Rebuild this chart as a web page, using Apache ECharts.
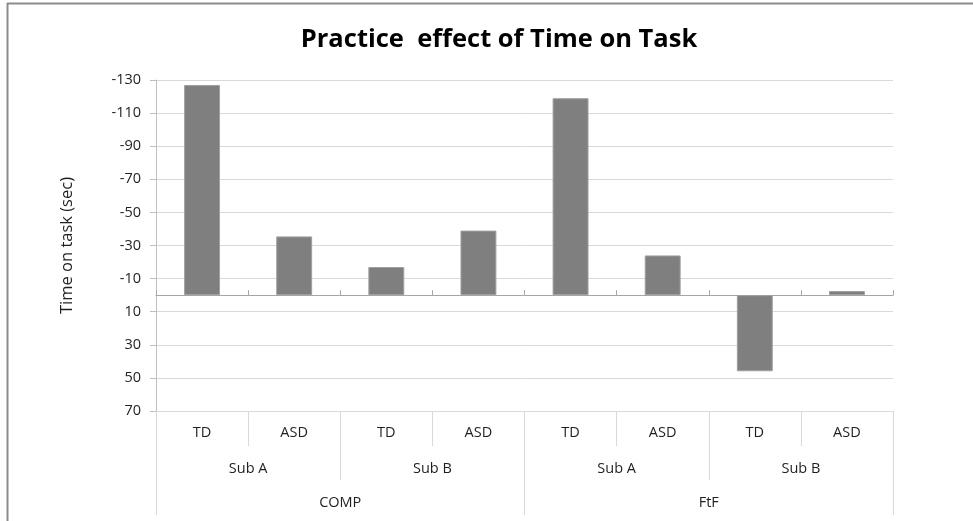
<!DOCTYPE html>
<html>
<head>
<meta charset="utf-8">
<script src="https://cdn.jsdelivr.net/npm/echarts@6/dist/echarts.min.js"></script>
<style>
  html, body { margin: 0; padding: 0; background: #fff; }
  #chart { width: 973px; height: 521px; }
</style>
</head>
<body>
<div id="chart"></div>
<script>
// Three-level category hierarchy along the bottom
const groupLabels = ['TD', 'ASD', 'TD', 'ASD', 'TD', 'ASD', 'TD', 'ASD'];
const subLabels = ['Sub A', 'Sub B', 'Sub A', 'Sub B'];
const modeLabels = ['COMP', 'FtF'];

// Change in time on task (seconds); negative = faster
const timeOnTask = [-127, -35.5, -17, -39, -119, -24, 46, -2.5];

// Value axis tick positions
const yTicks = [-130, -110, -90, -70, -50, -30, -10, 10, 30, 50, 70];

const FONT = '"Open Sans", Lato, sans-serif';
const TEXT = '#1f1f1f';
const GRID_GREY = '#d9d9d9';

const chart = echarts.init(document.getElementById('chart'), null, { renderer: 'canvas' });

// One bottom axis per hierarchy level; separator ticks get longer per level
function levelAxis(labels, margin, tickLen) {
  return {
    type: 'category',
    data: labels,
    position: 'bottom',
    axisLine: { show: false, onZero: false },
    axisTick: { show: true, length: tickLen, lineStyle: { color: GRID_GREY, width: 1 } },
    axisLabel: { show: true, margin: margin, color: TEXT, fontSize: 14.5, fontFamily: FONT },
    splitLine: { show: false }
  };
}

chart.setOption({
  animation: false,
  backgroundColor: '#fff',
  title: {
    text: 'Practice  effect of Time on Task',
    left: 494,
    top: 22,
    textAlign: 'center',
    textStyle: { fontFamily: FONT, fontSize: 25.5, fontWeight: 'bold', color: '#000' }
  },
  grid: { left: 156, right: 80, top: 80, bottom: 110 },
  xAxis: [
    {
      // axis line crossing at zero
      type: 'category',
      data: groupLabels,
      axisLine: { show: true, onZero: true, lineStyle: { color: '#a6a6a6', width: 1 } },
      axisTick: { show: true, inside: true, length: 5, lineStyle: { color: '#a6a6a6' } },
      axisLabel: { show: false },
      splitLine: { show: false }
    },
    levelAxis(groupLabels, 14, 35),
    levelAxis(subLabels, 50, 69),
    levelAxis(modeLabels, 84, 104)
  ],
  yAxis: {
    type: 'value',
    inverse: true,
    min: -130,
    max: 70,
    interval: 10,
    name: 'Time on task (sec)',
    nameLocation: 'middle',
    nameGap: 80,
    nameRotate: 90,
    nameTextStyle: { fontFamily: FONT, fontSize: 16.5, color: TEXT },
    axisLine: { show: true, lineStyle: { color: '#bfbfbf', width: 1 } },
    axisTick: { show: true, length: 6, customValues: yTicks, lineStyle: { color: '#bfbfbf' } },
    axisLabel: { customValues: yTicks, margin: 15, color: TEXT, fontSize: 14.5, fontFamily: FONT },
    splitLine: { show: true, lineStyle: { color: GRID_GREY, width: 1 } }
  },
  series: [{
    type: 'bar',
    xAxisIndex: 0,
    data: timeOnTask,
    barWidth: '39%',
    itemStyle: { color: '#7f7f7f', borderColor: '#a0a0a0', borderWidth: 1 }
  }],
  graphic: [
    { type: 'line', shape: { x1: 7, y1: 3.5, x2: 973, y2: 3.5 }, style: { stroke: '#8c8c8c', lineWidth: 2 } },
    { type: 'line', shape: { x1: 7.5, y1: 3, x2: 7.5, y2: 521 }, style: { stroke: '#8c8c8c', lineWidth: 2 } }
  ]
});
</script>
</body>
</html>
